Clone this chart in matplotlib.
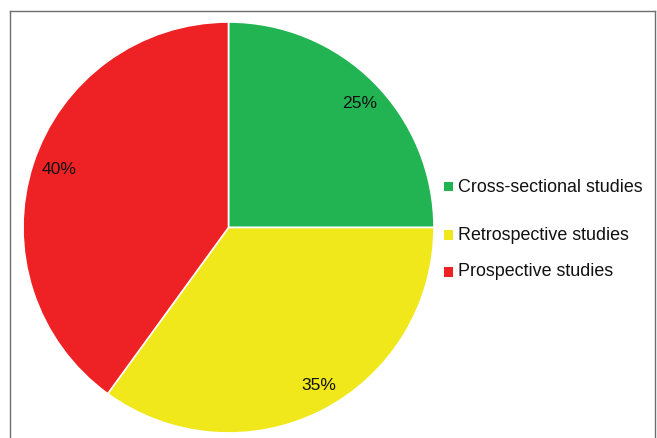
import matplotlib
matplotlib.use("Agg")
import matplotlib.pyplot as plt
from matplotlib.patches import Rectangle

plt.rcParams['font.family'] = ['Liberation Sans', 'DejaVu Sans']

categories = ["Cross-sectional studies", "Retrospective studies", "Prospective studies"]
shares = [25, 35, 40]
colors = ["#22B353", "#F0E81A", "#EE2224"]

W, H = 657, 438
fig = plt.figure(figsize=(W / 100, H / 100), dpi=100)

# outer frame (open at the bottom)
fig.add_artist(plt.Line2D([9.5 / W, 9.5 / W], [0, 1 - 10.5 / H], color="#6e6e6e", lw=1.0))
fig.add_artist(plt.Line2D([9.5 / W, 654.5 / W], [1 - 10.5 / H, 1 - 10.5 / H], color="#6e6e6e", lw=1.0))
fig.add_artist(plt.Line2D([654.5 / W, 654.5 / W], [0, 1 - 10.5 / H], color="#6e6e6e", lw=1.0))

cx, cy, r = 228.5, H - 227.5, 205.5
ax = fig.add_axes([(cx - r) / W, (cy - r) / H, 2 * r / W, 2 * r / H])
wedges, texts, autotexts = ax.pie(
    shares, colors=colors, startangle=90, counterclock=False, radius=1.0,
    autopct=lambda p: f"{p:.0f}%", pctdistance=0.885,
    wedgeprops=dict(edgecolor="white", linewidth=1.2),
    textprops=dict(fontsize=12.6, color="#111111"),
)
# small nudges of the percentage labels (in pixels: right, up)
px = 1 / r
for t, (dx, dy) in zip(autotexts, [(3, -5), (8, 4), (4, 2)]):
    x, y = t.get_position()
    t.set_position((x + dx * px, y + dy * px))
ax.set_xlim(-1, 1)
ax.set_ylim(-1, 1)
ax.set_aspect("equal")
ax.axis("off")

# legend entries
legend_y = [187, 235, 272]
for name, col, y in zip(categories, colors, legend_y):
    fig.add_artist(Rectangle((443.5 / W, 1 - (y + 4.5) / H), 9.5 / W, 9.5 / H,
                             transform=fig.transFigure, facecolor=col, edgecolor="none"))
    fig.text(458 / W, 1 - y / H, name, fontsize=12.9, color="#111111",
             ha="left", va="center")

fig.savefig("out.png", dpi=100)
